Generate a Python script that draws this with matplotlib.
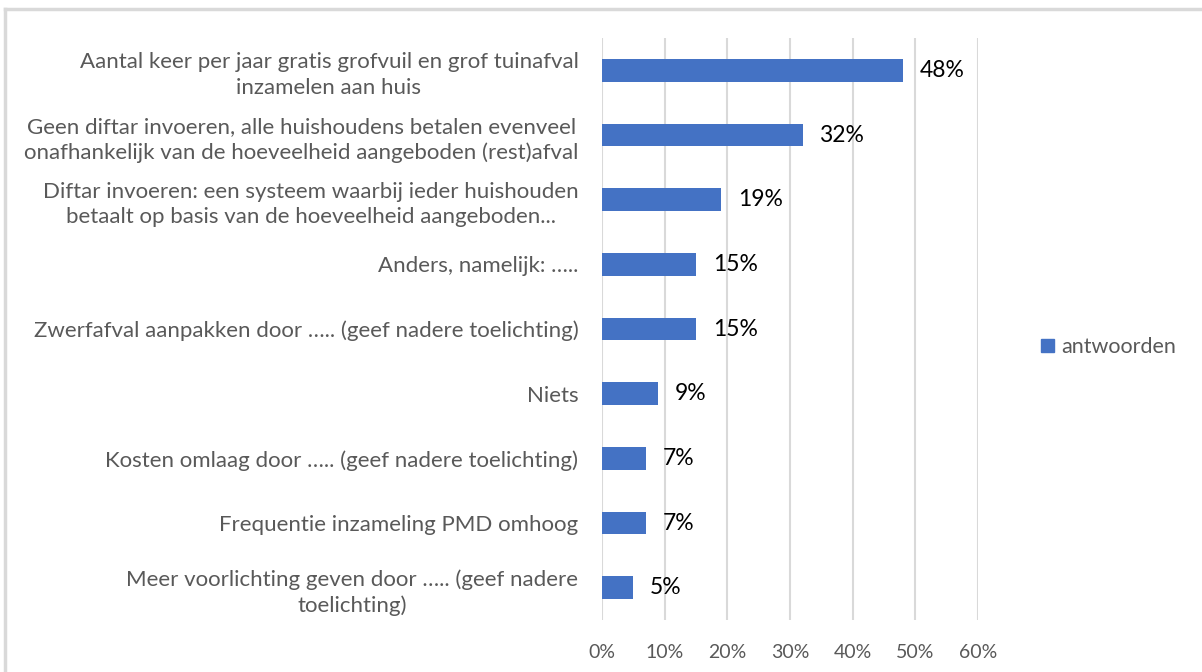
import matplotlib.pyplot as plt
from matplotlib.lines import Line2D
from matplotlib.patches import Patch

categories = [
    "Aantal keer per jaar gratis grofvuil en grof tuinafval\ninzamelen aan huis",
    "Geen diftar invoeren, alle huishoudens betalen evenveel\nonafhankelijk van de hoeveelheid aangeboden (rest)afval",
    "Diftar invoeren: een systeem waarbij ieder huishouden\nbetaalt op basis van de hoeveelheid aangeboden...",
    "Anders, namelijk: …..",
    "Zwerfafval aanpakken door ….. (geef nadere toelichting)",
    "Niets",
    "Kosten omlaag door ….. (geef nadere toelichting)",
    "Frequentie inzameling PMD omhoog",
    "Meer voorlichting geven door ….. (geef nadere\ntoelichting)",
]
values = [0.48, 0.32, 0.19, 0.15, 0.15, 0.09, 0.07, 0.07, 0.05]
value_labels = ["48%", "32%", "19%", "15%", "15%", "9%", "7%", "7%", "5%"]
x_ticks = [0, 0.1, 0.2, 0.3, 0.4, 0.5, 0.6]
x_tick_labels = ["0%", "10%", "20%", "30%", "40%", "50%", "60%"]
series_name = "antwoorden"

plt.rcParams['font.family'] = ['Lato', 'DejaVu Sans']

W, H = 1202, 672
fig = plt.figure(figsize=(W / 100, H / 100), dpi=100)
bar_color = '#4472C4'
grey = '#595959'

# chart frame (top and left edges visible)
fig.add_artist(Line2D([5 / W, 5 / W], [0, 1 - 9 / H], color='#D9D9D9', lw=2.5))
fig.add_artist(Line2D([5 / W, 1], [1 - 9 / H, 1 - 9 / H], color='#D9D9D9', lw=2.5))

ax = fig.add_axes([602 / W, 1 - 620 / H, (978 - 602) / W, (620 - 38) / H])
pos = list(range(len(categories)))
ax.barh(pos, values, height=0.35, color=bar_color, zorder=3)
ax.set_ylim(len(categories) - 0.5, -0.5)
ax.set_xlim(0, 0.6)

ax.set_yticks(pos)
ax.set_yticklabels(categories, fontsize=16, color=grey)
for t in ax.get_yticklabels():
    t.set_multialignment('center')
    t.set_linespacing(1.35)
ax.set_xticks(x_ticks)
ax.set_xticklabels(x_tick_labels, fontsize=14, color=grey)
ax.tick_params(axis='y', length=0, pad=17)
ax.tick_params(axis='x', length=0, pad=17)

ax.grid(axis='x', color='#D9D9D9', lw=1.5, zorder=0)
for s in ax.spines.values():
    s.set_visible(False)

for p, v, lab in zip(pos, values, value_labels):
    ax.annotate(lab, (v, p), xytext=(12, 0), textcoords='offset points',
                va='center', ha='left', fontsize=16.5, color='black')

fig.legend(handles=[Patch(color=bar_color, label=series_name)],
           loc='center left', bbox_to_anchor=(1022 / W, 1 - 347 / H),
           frameon=False, fontsize=15.5, handlelength=0.6, handleheight=0.6,
           handletextpad=0.3, labelcolor=grey)

fig.savefig('out.png', dpi=100)
